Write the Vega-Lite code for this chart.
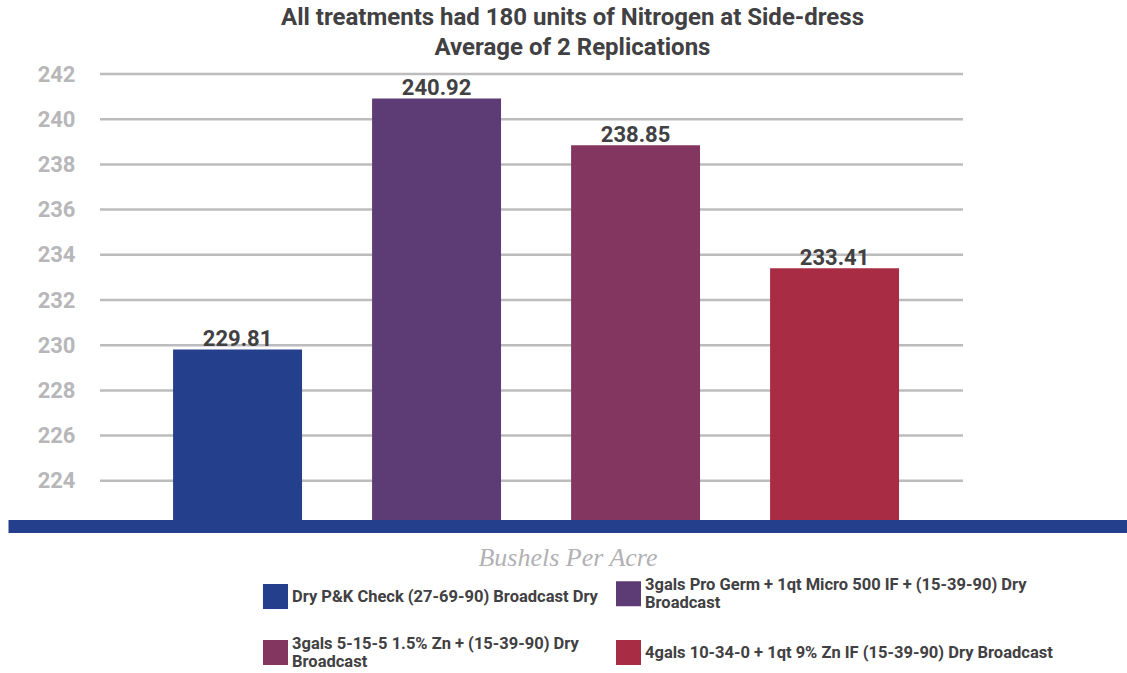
{
  "$schema": "https://vega.github.io/schema/vega-lite/v6.json",
  "width": 1119,
  "height": 452,
  "autosize": {"type": "none"},
  "padding": {"left": 8, "top": 74, "right": 0, "bottom": 147},
  "background": "white",
  "config": {"view": {"stroke": null}},
  "title": {
    "text": ["All treatments had 180 units of Nitrogen at Side-dress", "Average of 2 Replications"],
    "font": "Roboto",
    "fontSize": 24,
    "fontWeight": "bold",
    "color": "#414042",
    "lineHeight": 30,
    "anchor": "middle",
    "frame": "group",
    "offset": 3,
    "dx": 5
  },
  "data": {
    "values": [
      {"Treatment": "Dry P&K Check (27-69-90) Broadcast Dry", "Yield": 229.81},
      {"Treatment": "3gals Pro Germ + 1qt Micro 500 IF + (15-39-90) Dry Broadcast", "Yield": 240.92},
      {"Treatment": "3gals 5-15-5 1.5% Zn + (15-39-90) Dry Broadcast", "Yield": 238.85},
      {"Treatment": "4gals 10-34-0 + 1qt 9% Zn IF (15-39-90) Dry Broadcast", "Yield": 233.41}
    ]
  },
  "resolve": {"scale": {"x": "independent"}, "axis": {"x": "independent"}},
  "layer": [
    {
      "data": {"values": [{"grid": 224}, {"grid": 226}, {"grid": 228}, {"grid": 230}, {"grid": 232}, {"grid": 234}, {"grid": 236}, {"grid": 238}, {"grid": 240}, {"grid": 242}]},
      "mark": {"type": "rule", "color": "#bcbcbe", "strokeWidth": 2.5},
      "encoding": {
        "y": {
          "field": "grid",
          "type": "quantitative",
          "scale": {"domain": [222, 242], "nice": false, "zero": false},
          "axis": {
            "values": [224, 226, 228, 230, 232, 234, 236, 238, 240, 242],
            "grid": false,
            "domain": false,
            "ticks": false,
            "tickSize": 0,
            "labelPadding": 0,
            "offset": -67,
            "title": null,
            "labelFont": "Roboto",
            "labelFontSize": 22,
            "labelFontWeight": "bold",
            "labelColor": "#b7b7b9"
          }
        },
        "x": {"datum": 0, "type": "quantitative", "scale": {"domain": [-0.10661, 1.19003], "nice": false, "zero": false}, "axis": null},
        "x2": {"datum": 1}
      }
    },
    {
      "encoding": {
        "x": {
          "field": "Treatment",
          "type": "nominal",
          "sort": null,
          "scale": {"paddingInner": 0.352, "paddingOuter": 0.9875, "align": 0.42},
          "axis": {
            "labels": false,
            "ticks": false,
            "domain": true,
            "domainColor": "#243f8c",
            "domainWidth": 13,
            "zindex": 1,
            "title": "Bushels Per Acre",
            "titleFont": "Liberation Serif",
            "titleFontStyle": "italic",
            "titleFontWeight": "normal",
            "titleFontSize": 26,
            "titleColor": "#b1b1b4",
            "titlePadding": 18
          }
        },
        "y": {
          "field": "Yield",
          "type": "quantitative",
          "scale": {"domain": [222, 242], "nice": false, "zero": false},
          "axis": {
            "values": [224, 226, 228, 230, 232, 234, 236, 238, 240, 242],
            "grid": false,
            "domain": false,
            "ticks": false,
            "tickSize": 0,
            "labelPadding": 0,
            "offset": -67,
            "title": null,
            "labelFont": "Roboto",
            "labelFontSize": 22,
            "labelFontWeight": "bold",
            "labelColor": "#b7b7b9"
          }
        }
      },
      "layer": [
        {
          "mark": {"type": "bar"},
          "encoding": {
            "y2": {"datum": 222},
            "color": {
              "field": "Treatment",
              "type": "nominal",
              "sort": null,
              "scale": {
                "domain": [
                  "Dry P&K Check (27-69-90) Broadcast Dry",
                  "3gals Pro Germ + 1qt Micro 500 IF + (15-39-90) Dry Broadcast",
                  "3gals 5-15-5 1.5% Zn + (15-39-90) Dry Broadcast",
                  "4gals 10-34-0 + 1qt 9% Zn IF (15-39-90) Dry Broadcast"
                ],
                "range": ["#243f8c", "#5d3b74", "#833660", "#a82c44"]
              },
              "legend": {
                "title": null,
                "orient": "none",
                "direction": "horizontal",
                "legendX": 255,
                "legendY": 507,
                "columns": 2,
                "columnPadding": 18,
                "rowPadding": 23,
                "padding": 0,
                "symbolType": "square",
                "symbolSize": 625,
                "symbolStrokeWidth": 0,
                "symbolOpacity": 1,
                "labelOffset": 4,
                "labelLimit": 500,
                "labelFont": "Roboto",
                "labelFontSize": 16.5,
                "labelFontWeight": "bold",
                "labelColor": "#414042",
                "labelBaseline": {"expr": "indexof(datum.value, 'Pro Germ') >= 0 || indexof(datum.value, '5-15-5') >= 0 ? 'line-bottom' : 'middle'"},
                "labelExpr": "datum.label == '3gals Pro Germ + 1qt Micro 500 IF + (15-39-90) Dry Broadcast' ? ['3gals Pro Germ + 1qt Micro 500 IF + (15-39-90) Dry', 'Broadcast'] : datum.label == '3gals 5-15-5 1.5% Zn + (15-39-90) Dry Broadcast' ? ['3gals 5-15-5 1.5% Zn + (15-39-90) Dry', 'Broadcast'] : datum.label"
              }
            }
          }
        },
        {
          "mark": {"type": "text", "baseline": "alphabetic", "dy": -3, "font": "Roboto", "fontSize": 22, "fontWeight": "bold", "color": "#414042"},
          "encoding": {
            "text": {"field": "Yield", "type": "quantitative", "format": ".2f"}
          }
        }
      ]
    }
  ]
}
